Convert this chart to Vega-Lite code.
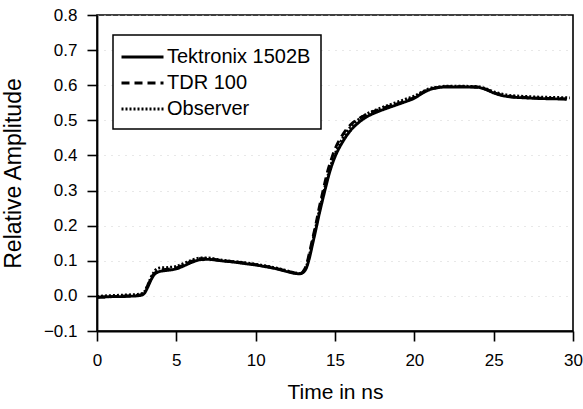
{
  "$schema": "https://vega.github.io/schema/vega-lite/v6.json",
  "width": 476,
  "height": 316,
  "autosize": {"type": "none"},
  "padding": {"left": 97, "top": 15, "right": 10, "bottom": 78},
  "background": "white",
  "config": {
    "font": "Liberation Sans",
    "view": {"stroke": "black", "strokeWidth": 1.6},
    "axis": {
      "domainColor": "black", "domainWidth": 1.8,
      "tickColor": "black", "tickWidth": 1.6, "tickSize": 10,
      "labelColor": "black", "labelFont": "Liberation Sans", "labelFontSize": 17,
      "titleColor": "black", "titleFont": "Liberation Sans", "titleFontSize": 21, "titleFontWeight": "normal"
    }
  },
  "data": {"values": [
    {"series":"Tektronix 1502B","t":0,"v":-0.004},{"series":"Tektronix 1502B","t":0.5,"v":-0.003},{"series":"Tektronix 1502B","t":1,"v":-0.002},{"series":"Tektronix 1502B","t":1.5,"v":-0.002},{"series":"Tektronix 1502B","t":2,"v":-0.001},{"series":"Tektronix 1502B","t":2.5,"v":0.0},{"series":"Tektronix 1502B","t":2.8,"v":0.002},{"series":"Tektronix 1502B","t":3.0,"v":0.008},{"series":"Tektronix 1502B","t":3.2,"v":0.025},{"series":"Tektronix 1502B","t":3.4,"v":0.045},{"series":"Tektronix 1502B","t":3.6,"v":0.06},{"series":"Tektronix 1502B","t":3.8,"v":0.067},{"series":"Tektronix 1502B","t":4.0,"v":0.07},{"series":"Tektronix 1502B","t":4.5,"v":0.073},{"series":"Tektronix 1502B","t":5.0,"v":0.077},{"series":"Tektronix 1502B","t":5.5,"v":0.086},{"series":"Tektronix 1502B","t":6.0,"v":0.096},{"series":"Tektronix 1502B","t":6.5,"v":0.103},{"series":"Tektronix 1502B","t":7.0,"v":0.104},{"series":"Tektronix 1502B","t":7.5,"v":0.102},{"series":"Tektronix 1502B","t":8.0,"v":0.099},{"series":"Tektronix 1502B","t":8.5,"v":0.097},{"series":"Tektronix 1502B","t":9.0,"v":0.094},{"series":"Tektronix 1502B","t":9.5,"v":0.091},{"series":"Tektronix 1502B","t":10.0,"v":0.088},{"series":"Tektronix 1502B","t":10.5,"v":0.084},{"series":"Tektronix 1502B","t":11.0,"v":0.08},{"series":"Tektronix 1502B","t":11.5,"v":0.075},{"series":"Tektronix 1502B","t":12.0,"v":0.069},{"series":"Tektronix 1502B","t":12.5,"v":0.064},{"series":"Tektronix 1502B","t":12.8,"v":0.063},{"series":"Tektronix 1502B","t":13.0,"v":0.067},{"series":"Tektronix 1502B","t":13.2,"v":0.08},{"series":"Tektronix 1502B","t":13.4,"v":0.11},{"series":"Tektronix 1502B","t":13.6,"v":0.15},{"series":"Tektronix 1502B","t":13.8,"v":0.19},{"series":"Tektronix 1502B","t":14.0,"v":0.232},{"series":"Tektronix 1502B","t":14.2,"v":0.27},{"series":"Tektronix 1502B","t":14.4,"v":0.307},{"series":"Tektronix 1502B","t":14.6,"v":0.342},{"series":"Tektronix 1502B","t":14.8,"v":0.372},{"series":"Tektronix 1502B","t":15.0,"v":0.396},{"series":"Tektronix 1502B","t":15.5,"v":0.44},{"series":"Tektronix 1502B","t":16.0,"v":0.472},{"series":"Tektronix 1502B","t":16.5,"v":0.494},{"series":"Tektronix 1502B","t":17.0,"v":0.51},{"series":"Tektronix 1502B","t":17.5,"v":0.521},{"series":"Tektronix 1502B","t":18.0,"v":0.53},{"series":"Tektronix 1502B","t":18.5,"v":0.538},{"series":"Tektronix 1502B","t":19.0,"v":0.546},{"series":"Tektronix 1502B","t":19.5,"v":0.554},{"series":"Tektronix 1502B","t":20.0,"v":0.563},{"series":"Tektronix 1502B","t":20.5,"v":0.577},{"series":"Tektronix 1502B","t":21.0,"v":0.588},{"series":"Tektronix 1502B","t":21.5,"v":0.593},{"series":"Tektronix 1502B","t":22.0,"v":0.595},{"series":"Tektronix 1502B","t":23.0,"v":0.595},{"series":"Tektronix 1502B","t":24.0,"v":0.594},{"series":"Tektronix 1502B","t":24.5,"v":0.588},{"series":"Tektronix 1502B","t":25.0,"v":0.578},{"series":"Tektronix 1502B","t":25.5,"v":0.571},{"series":"Tektronix 1502B","t":26.0,"v":0.567},{"series":"Tektronix 1502B","t":27.0,"v":0.564},{"series":"Tektronix 1502B","t":28.0,"v":0.562},{"series":"Tektronix 1502B","t":29.0,"v":0.561},{"series":"Tektronix 1502B","t":29.6,"v":0.56},
    {"series":"TDR 100","t":0,"v":-0.004},{"series":"TDR 100","t":0.5,"v":-0.003},{"series":"TDR 100","t":1,"v":-0.002},{"series":"TDR 100","t":1.5,"v":-0.001},{"series":"TDR 100","t":2,"v":0.0},{"series":"TDR 100","t":2.5,"v":0.001},{"series":"TDR 100","t":2.8,"v":0.004},{"series":"TDR 100","t":3.0,"v":0.012},{"series":"TDR 100","t":3.2,"v":0.03},{"series":"TDR 100","t":3.4,"v":0.05},{"series":"TDR 100","t":3.6,"v":0.063},{"series":"TDR 100","t":3.8,"v":0.07},{"series":"TDR 100","t":4.0,"v":0.073},{"series":"TDR 100","t":4.5,"v":0.076},{"series":"TDR 100","t":5.0,"v":0.08},{"series":"TDR 100","t":5.5,"v":0.089},{"series":"TDR 100","t":6.0,"v":0.099},{"series":"TDR 100","t":6.5,"v":0.106},{"series":"TDR 100","t":7.0,"v":0.106},{"series":"TDR 100","t":7.5,"v":0.103},{"series":"TDR 100","t":8.0,"v":0.1},{"series":"TDR 100","t":9.0,"v":0.095},{"series":"TDR 100","t":10.0,"v":0.089},{"series":"TDR 100","t":11.0,"v":0.081},{"series":"TDR 100","t":11.5,"v":0.076},{"series":"TDR 100","t":12.0,"v":0.07},{"series":"TDR 100","t":12.5,"v":0.065},{"series":"TDR 100","t":12.8,"v":0.064},{"series":"TDR 100","t":13.0,"v":0.07},{"series":"TDR 100","t":13.2,"v":0.088},{"series":"TDR 100","t":13.4,"v":0.125},{"series":"TDR 100","t":13.6,"v":0.165},{"series":"TDR 100","t":13.8,"v":0.205},{"series":"TDR 100","t":14.0,"v":0.25},{"series":"TDR 100","t":14.2,"v":0.29},{"series":"TDR 100","t":14.4,"v":0.33},{"series":"TDR 100","t":14.6,"v":0.365},{"series":"TDR 100","t":14.8,"v":0.393},{"series":"TDR 100","t":15.0,"v":0.418},{"series":"TDR 100","t":15.5,"v":0.46},{"series":"TDR 100","t":16.0,"v":0.488},{"series":"TDR 100","t":16.5,"v":0.505},{"series":"TDR 100","t":17.0,"v":0.517},{"series":"TDR 100","t":17.5,"v":0.526},{"series":"TDR 100","t":18.0,"v":0.534},{"series":"TDR 100","t":18.5,"v":0.541},{"series":"TDR 100","t":19.0,"v":0.548},{"series":"TDR 100","t":19.5,"v":0.556},{"series":"TDR 100","t":20.0,"v":0.565},{"series":"TDR 100","t":20.5,"v":0.579},{"series":"TDR 100","t":21.0,"v":0.589},{"series":"TDR 100","t":21.5,"v":0.594},{"series":"TDR 100","t":22.0,"v":0.596},{"series":"TDR 100","t":23.0,"v":0.596},{"series":"TDR 100","t":24.0,"v":0.595},{"series":"TDR 100","t":24.5,"v":0.589},{"series":"TDR 100","t":25.0,"v":0.579},{"series":"TDR 100","t":25.5,"v":0.572},{"series":"TDR 100","t":26.0,"v":0.568},{"series":"TDR 100","t":27.0,"v":0.565},{"series":"TDR 100","t":28.0,"v":0.563},{"series":"TDR 100","t":29.0,"v":0.562},{"series":"TDR 100","t":29.6,"v":0.561},
    {"series":"Observer","t":0,"v":-0.002},{"series":"Observer","t":0.5,"v":0.0},{"series":"Observer","t":1,"v":0.001},{"series":"Observer","t":1.5,"v":0.002},{"series":"Observer","t":2,"v":0.003},{"series":"Observer","t":2.5,"v":0.004},{"series":"Observer","t":2.8,"v":0.006},{"series":"Observer","t":3.0,"v":0.012},{"series":"Observer","t":3.2,"v":0.03},{"series":"Observer","t":3.4,"v":0.052},{"series":"Observer","t":3.6,"v":0.068},{"series":"Observer","t":3.8,"v":0.078},{"series":"Observer","t":4.0,"v":0.08},{"series":"Observer","t":4.5,"v":0.081},{"series":"Observer","t":5.0,"v":0.084},{"series":"Observer","t":5.5,"v":0.093},{"series":"Observer","t":6.0,"v":0.102},{"series":"Observer","t":6.5,"v":0.108},{"series":"Observer","t":7.0,"v":0.108},{"series":"Observer","t":7.5,"v":0.104},{"series":"Observer","t":8.0,"v":0.101},{"series":"Observer","t":9.0,"v":0.096},{"series":"Observer","t":10.0,"v":0.09},{"series":"Observer","t":11.0,"v":0.082},{"series":"Observer","t":11.5,"v":0.077},{"series":"Observer","t":12.0,"v":0.071},{"series":"Observer","t":12.5,"v":0.065},{"series":"Observer","t":12.8,"v":0.064},{"series":"Observer","t":13.0,"v":0.069},{"series":"Observer","t":13.2,"v":0.084},{"series":"Observer","t":13.4,"v":0.118},{"series":"Observer","t":13.6,"v":0.158},{"series":"Observer","t":13.8,"v":0.198},{"series":"Observer","t":14.0,"v":0.24},{"series":"Observer","t":14.2,"v":0.278},{"series":"Observer","t":14.4,"v":0.316},{"series":"Observer","t":14.6,"v":0.35},{"series":"Observer","t":14.8,"v":0.38},{"series":"Observer","t":15.0,"v":0.404},{"series":"Observer","t":15.5,"v":0.45},{"series":"Observer","t":16.0,"v":0.482},{"series":"Observer","t":16.5,"v":0.503},{"series":"Observer","t":17.0,"v":0.518},{"series":"Observer","t":17.5,"v":0.528},{"series":"Observer","t":18.0,"v":0.537},{"series":"Observer","t":18.5,"v":0.545},{"series":"Observer","t":19.0,"v":0.553},{"series":"Observer","t":19.5,"v":0.561},{"series":"Observer","t":20.0,"v":0.569},{"series":"Observer","t":20.5,"v":0.581},{"series":"Observer","t":21.0,"v":0.591},{"series":"Observer","t":21.5,"v":0.595},{"series":"Observer","t":22.0,"v":0.597},{"series":"Observer","t":23.0,"v":0.597},{"series":"Observer","t":24.0,"v":0.596},{"series":"Observer","t":24.5,"v":0.59},{"series":"Observer","t":25.0,"v":0.581},{"series":"Observer","t":25.5,"v":0.575},{"series":"Observer","t":26.0,"v":0.571},{"series":"Observer","t":27.0,"v":0.568},{"series":"Observer","t":28.0,"v":0.566},{"series":"Observer","t":29.0,"v":0.565},{"series":"Observer","t":29.8,"v":0.564}
  ]},
  "mark": {"type": "line", "color": "black", "strokeWidth": 2.9, "interpolate": "monotone"},
  "encoding": {
    "x": {
      "field": "t", "type": "quantitative",
      "scale": {"domain": [0, 30], "nice": false},
      "axis": {"title": "Time in ns", "values": [0, 5, 10, 15, 20, 25, 30], "grid": false, "labelPadding": 11, "titlePadding": 13, "labelFlush": false}
    },
    "y": {
      "field": "v", "type": "quantitative",
      "scale": {"domain": [-0.1, 0.8], "nice": false, "zero": false},
      "axis": {"title": "Relative Amplitude", "titleFontSize": 23, "values": [-0.1, 0, 0.1, 0.2, 0.3, 0.4, 0.5, 0.6, 0.7, 0.8], "format": ".1f", "labelPadding": 10, "titlePadding": 18, "labelFlush": false,
        "grid": true, "gridColor": "#d0d0d0", "gridDash": [1, 6], "gridWidth": 1}
    },
    "strokeDash": {
      "field": "series", "type": "nominal",
      "scale": {"domain": ["Tektronix 1502B", "TDR 100", "Observer"], "range": [[1, 0], [8, 5], [2, 2]]},
      "legend": {
        "title": null, "orient": "none", "legendX": 16, "legendY": 20,
        "strokeColor": "black", "fillColor": "white", "padding": 10,
        "labelFont": "Liberation Sans", "labelFontSize": 20, "labelColor": "black",
        "symbolType": "M-1,0H3", "symbolSize": 441, "symbolStrokeColor": "black", "symbolStrokeWidth": 2.8,
        "symbolOffset": -3, "labelOffset": 23, "rowPadding": 4,
        "encode": {"legend": {"update": {"strokeWidth": {"value": 1.5}}}}
      }
    }
  }
}
